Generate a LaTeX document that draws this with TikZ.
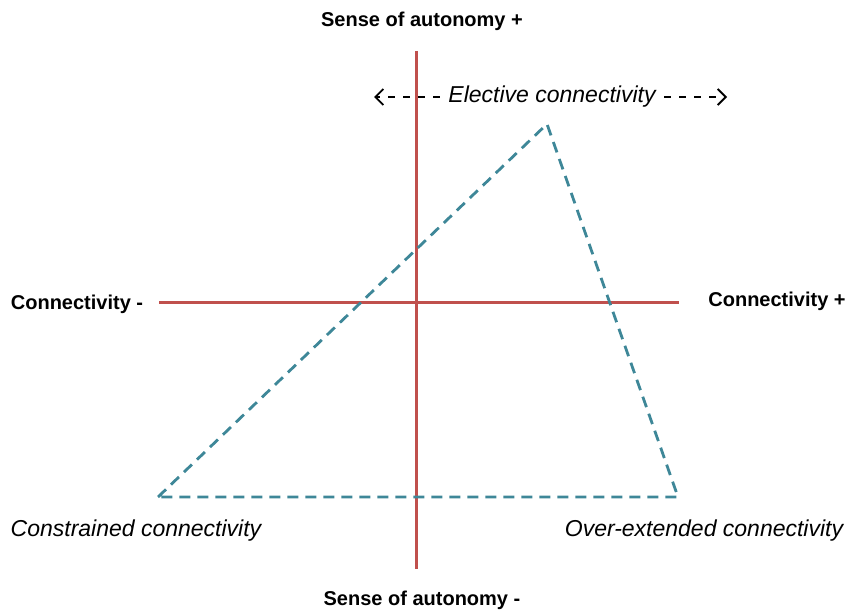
\documentclass[tikz,border=0pt]{standalone}
\usepackage{fontspec}
\setmainfont{Liberation Sans}
\usetikzlibrary{arrows.meta}
\definecolor{axisred}{RGB}{192,80,77}
\definecolor{triteal}{RGB}{62,135,152}
\begin{document}
\begin{tikzpicture}[x=1pt, y=-1pt,
  axis/.style={axisred, line width=3pt},
  tri/.style={triteal, line width=2.8pt, dash pattern=on 11pt off 7pt},
  axislabel/.style={font=\fontsize{20}{22}\selectfont\bfseries},
  zonelabel/.style={font=\fontsize{23}{26}\selectfont\itshape},
  spread/.style={dash pattern=on 7pt off 8pt, line width=1.8pt, -{Straight Barb[length=8pt, width=16pt, line width=1.8pt]}}]

\useasboundingbox (0,0) rectangle (849,612);

%Axes
\coordinate (vtop) at (416,51);
\coordinate (vbot) at (416,569);
\coordinate (hleft) at (159,303);
\coordinate (hright) at (679,303);
\draw [axis] (vtop) -- (vbot);
\draw [axis] (hleft) -- (hright);

%Axis labels
\node [axislabel] (autoplus) at (422,21) {Sense of autonomy +};
\node [axislabel] (autominus) at (422,600) {Sense of autonomy -};
\node [axislabel] (connminus) at (77,304) {Connectivity -};
\node [axislabel] (connplus) at (777,301) {Connectivity +};

%Dashed triangle
\coordinate (tleft) at (158,497);
\coordinate (ttop) at (547,124);
\coordinate (tright) at (678,497);
\draw [tri] (tleft) -- (ttop) -- (tright) -- cycle;

%Corner labels
\node [zonelabel] (constrained) at (136,531) {Constrained connectivity};
\node [zonelabel] (overext) at (704,531) {Over-extended connectivity};
\node [zonelabel] (elective) at (552,97) {Elective connectivity};

%Elective arrows
\coordinate (eleft) at (374,97);
\coordinate (eright) at (727,97);
\draw [spread] ([xshift=-5pt]elective.west) -- (eleft);
\draw [spread] ([xshift=5pt]elective.east) -- (eright);

\end{tikzpicture}
\end{document}
